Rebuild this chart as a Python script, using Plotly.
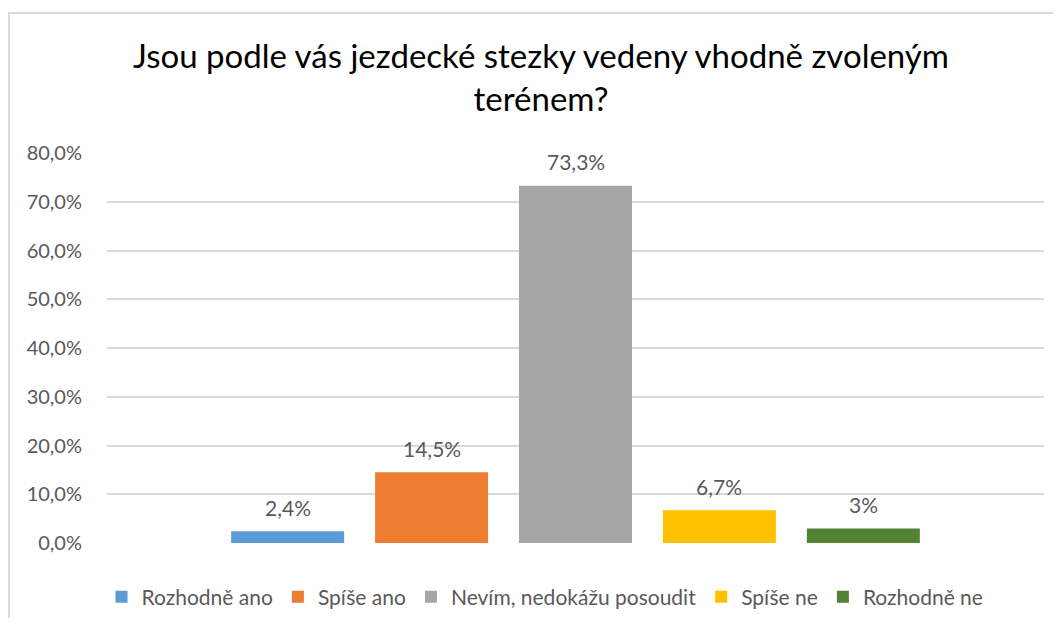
import plotly.graph_objects as go

title_text = "Jsou podle vás jezdecké stezky vedeny vhodně zvoleným<br>terénem?"
series_names = ["Rozhodně ano", "Spíše ano", "Nevím, nedokážu posoudit", "Spíše ne", "Rozhodně ne"]
series_values = [2.4, 14.5, 73.3, 6.7, 3.0]
value_labels = ["2,4%", "14,5%", "73,3%", "6,7%", "3%"]
series_colors = ["#5B9BD5", "#ED7D31", "#A5A5A5", "#FFC000", "#548235"]
category = [""]
y_ticks = [0, 10, 20, 30, 40, 50, 60, 70, 80]
y_tick_labels = [f"{v:.1f}".replace(".", ",") + "%" for v in y_ticks]

FONT = "Lato"
TXT = "#595959"
BARGAP = 0.232
BARGROUPGAP = 0.215

fig = go.Figure()
for name, val, col in zip(series_names, series_values, series_colors):
    fig.add_trace(go.Bar(
        x=category, y=[val], name=name,
        marker=dict(color=col, line=dict(width=0)),
        hoverinfo="skip",
    ))

# data labels placed above each bar of the group (positions derived from bargap)
n = len(series_values)
slot = (1 - BARGAP) / n
annotations = []
for i, (val, lab) in enumerate(zip(series_values, value_labels)):
    annotations.append(dict(
        x=(i - (n - 1) / 2) * slot, y=val, xref="x", yref="y",
        text=lab, showarrow=False, yanchor="middle", yshift=24,
        font=dict(family=FONT, size=21, color=TXT),
    ))

# page has an 8px body margin around the figure
OFF = 8
W, H = 1061 - 2 * OFF, 626 - 2 * OFF
L = 107 - OFF
R = W - (1044 - OFF)
T = 153 - OFF
B = H - (543 - OFF)
pw = W - L - R
ph = H - T - B

def px_to_paper_x(px):
    return (px - OFF - L) / pw

def px_to_paper_y(py):
    return (H - B - (py - OFF)) / ph

fig.update_layout(
    width=W, height=H,
    margin=dict(l=L, r=R, t=T, b=B, pad=0),
    paper_bgcolor="white", plot_bgcolor="white",
    barmode="group", bargap=BARGAP, bargroupgap=BARGROUPGAP,
    font=dict(family=FONT, color=TXT),
    title=dict(text=title_text, x=(541 - OFF) / W, xanchor="center", xref="container",
               y=1 - (68 - OFF) / H, yanchor="top", yref="container",
               font=dict(family=FONT, size=33, color="#000000")),
    showlegend=True,
    legend=dict(orientation="h", x=(545 - OFF) / W, xanchor="center", xref="container",
                y=1 - (597 - OFF) / H, yanchor="middle", yref="container",
                font=dict(family=FONT, size=21, color=TXT),
                itemwidth=30, traceorder="normal"),
    annotations=annotations,
    shapes=[
        dict(type="line", xref="paper", yref="paper",
             x0=px_to_paper_x(8), x1=px_to_paper_x(1070),
             y0=px_to_paper_y(13), y1=px_to_paper_y(13),
             line=dict(color="#D9D9D9", width=2)),
        dict(type="line", xref="paper", yref="paper",
             x0=px_to_paper_x(9), x1=px_to_paper_x(9),
             y0=px_to_paper_y(13), y1=px_to_paper_y(640),
             line=dict(color="#D9D9D9", width=2)),
    ],
)
fig.update_xaxes(showticklabels=False, showgrid=False, zeroline=False, showline=False)
fig.update_yaxes(range=[0, 80], tickmode="array", tickvals=y_ticks, ticktext=y_tick_labels,
                 showgrid=True, gridcolor="#D9D9D9", gridwidth=1.5,
                 zeroline=False, showline=False, ticks="",
                 ticklabelstandoff=24,
                 tickfont=dict(family=FONT, size=20, color=TXT))

fig.write_html("out.html")
